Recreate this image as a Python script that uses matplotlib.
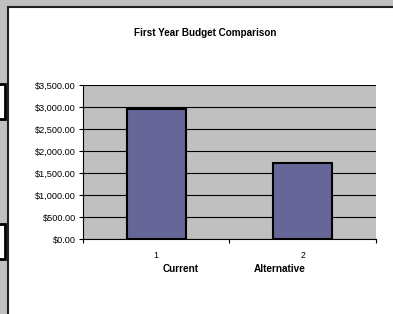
import numpy as np
import matplotlib.pyplot as plt
from matplotlib.patches import Rectangle
from matplotlib.ticker import FuncFormatter

plt.rcParams['font.family'] = ['Liberation Sans', 'DejaVu Sans']

# data
categories = ['1', '2']
names = ['Current', 'Alternative']
budget = [2950, 1725]
yticks = [0, 500, 1000, 1500, 2000, 2500, 3000, 3500]

W, H = 393, 314
fig = plt.figure(figsize=(W / 100, H / 100), dpi=100)
fig.patch.set_facecolor('#c0c0c0')

def fx(x):
    return x / W

def fy(y):
    return 1 - y / H

# white chart sheet
fig.patches.append(Rectangle((fx(7.5), -0.05), 1, fy(6.5) + 0.05, transform=fig.transFigure,
                             facecolor='white', edgecolor='#202020', lw=1.5, zorder=-2))
# cut-off boxes at the left edge
for top, bot in [(84, 119), (224, 259)]:
    fig.patches.append(Rectangle((fx(-3), fy(bot)), fx(8), fy(top) - fy(bot),
                                 transform=fig.transFigure, facecolor='white',
                                 edgecolor='black', lw=2, zorder=-1))

ax = fig.add_axes([fx(83), fy(239), fx(376) - fx(83), fy(85) - fy(239)])
ax.set_facecolor('#c0c0c0')
x = np.arange(len(budget)) + 1
ax.bar(x, budget, width=0.4, color='#666699', edgecolor='black', linewidth=1.5, zorder=3)

ax.set_xlim(0.5, len(budget) + 0.5)
ax.set_ylim(0, 3500)
ax.set_yticks(yticks)
ax.yaxis.set_major_formatter(FuncFormatter(lambda v, p: '${:,.2f}'.format(v)))
ax.grid(axis='y', color='black', lw=0.8, zorder=1)

ax.set_xticks(np.arange(len(budget) + 1) + 0.5)
ax.set_xticklabels([])
ax.set_xticks(x, minor=True)
ax.set_xticklabels(categories, minor=True)
ax.tick_params(axis='x', which='minor', length=0, pad=9, labelsize=6.3)
ax.tick_params(axis='x', which='major', length=3, width=0.8)
ax.tick_params(axis='y', length=3, width=0.8, labelsize=6.6, pad=2)

for s in ['top', 'right']:
    ax.spines[s].set_visible(False)
for s in ['left', 'bottom']:
    ax.spines[s].set_linewidth(0.8)

fig.text(fx(205), fy(33), 'First Year Budget Comparison', ha='center', va='center',
         fontsize=7.1, fontweight='bold')
fig.text(fx(181), fy(269), names[0], ha='center', va='center', fontsize=7.2, fontweight='bold')
fig.text(fx(280), fy(269), names[1], ha='center', va='center', fontsize=7.2, fontweight='bold')

fig.savefig('out.png', dpi=100, facecolor=fig.get_facecolor())
